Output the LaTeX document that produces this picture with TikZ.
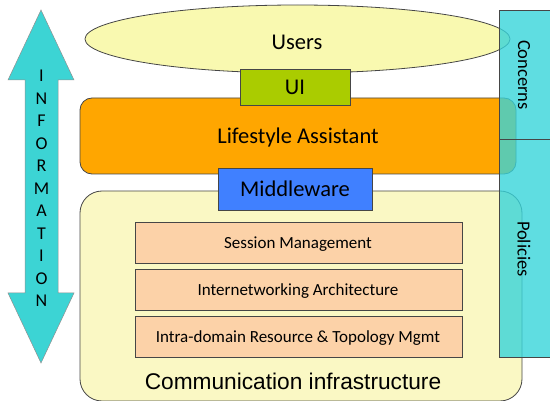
\documentclass[tikz,border=0pt]{standalone}
\usepackage{fontspec}
\setmainfont{Carlito}
\newfontfamily\arialf{Liberation Sans}
\definecolor{ellfill}{RGB}{249,249,176}
\definecolor{commfill}{RGB}{250,248,196}
\definecolor{uigreen}{RGB}{170,204,0}
\definecolor{orangefill}{RGB}{255,166,0}
\definecolor{bluefill}{RGB}{64,128,255}
\definecolor{peach}{RGB}{252,210,168}
\definecolor{arrowcyan}{RGB}{60,212,212}
\definecolor{panelcyan}{RGB}{55,212,218}
\definecolor{edge}{RGB}{70,70,70}
\begin{document}
\begin{tikzpicture}[x=1pt,y=-1pt,
  shapebox/.style={draw=edge, line width=0.8pt, inner sep=0pt},
  layerbox/.style={shapebox, fill=peach, minimum width=327pt, minimum height=41pt, font=\fontsize{17}{19}\selectfont},
  bigtext/.style={font=\fontsize{22.5}{26}\selectfont},
  paneltext/.style={font=\fontsize{18.5}{22}\selectfont, rotate=-90},
  infoletter/.style={font=\fontsize{18}{20}\selectfont, inner sep=0pt}
]
\useasboundingbox (0,0) rectangle (550,401);
% Users ellipse
\draw[draw=edge, line width=0.8pt, fill=ellfill] (297.5,39) ellipse [x radius=212.5pt, y radius=34pt];
\node[bigtext] (users) at (297,42) {Users};
% Lifestyle assistant
\node[shapebox, fill=orangefill, rounded corners=12pt, minimum width=436pt, minimum height=76pt, bigtext] (life) at (298,136) {};
\node[bigtext] (lifetext) at (298,138) {Lifestyle Assistant};
% UI
\node[shapebox, fill=uigreen, minimum width=110pt, minimum height=36pt, bigtext] (ui) at (295,87) {UI};
% Communication infrastructure
\node[shapebox, fill=commfill, rounded corners=22pt, minimum width=442pt, minimum height=210pt] (comm) at (301,296) {};
\node[font=\arialf\fontsize{22.7}{26}\selectfont] (commtext) at (293,381) {Communication infrastructure};
% Middleware
\node[shapebox, fill=bluefill, minimum width=154pt, minimum height=42pt, bigtext] (mw) at (295,189) {Middleware};
% Layers
\node[layerbox] (sess) at (298.5,242.5) {};
\node[font=\fontsize{17}{19}\selectfont] (sesst) at (298,244) {Session Management};
\node[layerbox] (inet) at (298.5,289.5) {};
\node[font=\fontsize{17}{19}\selectfont] (inett) at (298,291) {Internetworking Architecture};
\node[layerbox] (intra) at (298.5,336.5) {};
\node[font=\fontsize{17}{19}\selectfont] (intrat) at (298,338) {Intra-domain Resource \& Topology Mgmt};
% Information arrow
\draw[draw=edge!60, line width=0.5pt, fill=arrowcyan]
  (41,10) -- (74,80) -- (58,80) -- (58,293) -- (74,293) -- (41,363)
  -- (8,293) -- (25,293) -- (25,80) -- (8,80) -- cycle;
\foreach \l [count=\i from 0] in {I,N,F,O,R,M,A,T,I,O,N}
  \node[infoletter] (info\i) at (41.5,{76+22.5*\i}) {\l};
% Side panel
\fill[panelcyan, opacity=0.8] (499,10) rectangle (551,357);
\draw[draw=edge, line width=0.8pt] (551,10) -- (499,10) -- (499,357) -- (551,357);
\draw[draw=edge, line width=0.8pt] (499,139) -- (551,139);
\node[paneltext] (concerns) at (524,75) {Concerns};
\node[paneltext] (policies) at (524,249) {Policies};
\end{tikzpicture}
\end{document}
